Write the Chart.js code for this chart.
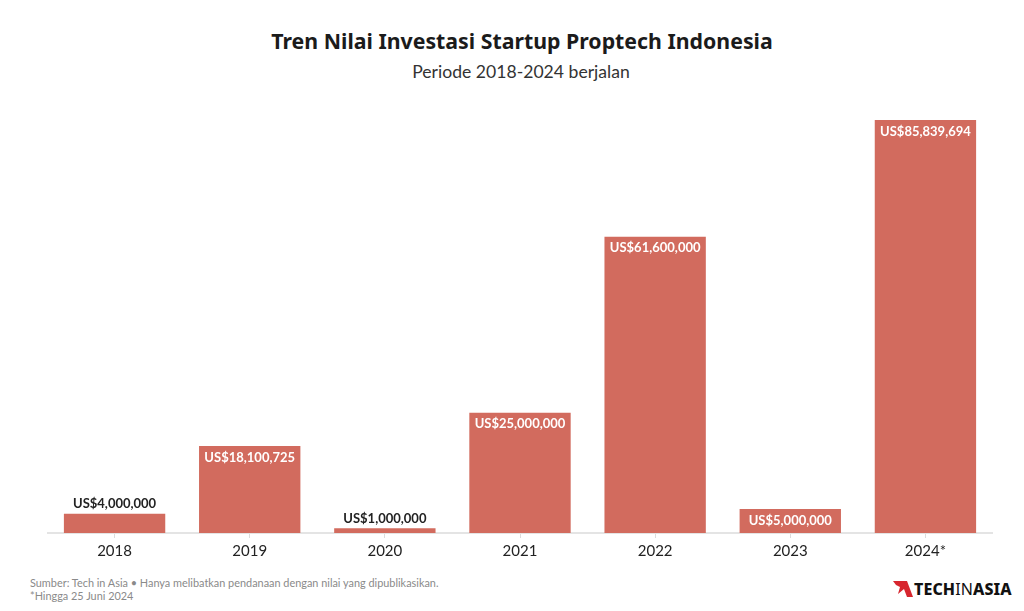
<!DOCTYPE html>
<html>
<head>
<meta charset="utf-8">
<script src="https://cdn.jsdelivr.net/npm/chart.js@4.4.0/dist/chart.umd.min.js"></script>
<style>
    body { margin: 0; background: #fff; }
    #wrap { position: relative; width: 1024px; height: 611px; overflow: hidden; font-family: Lato, "Noto Sans", sans-serif; }
    #title { position: absolute; top: 26px; left: 10px; width: 1024px; text-align: center; font-family: "Noto Sans", Inter, sans-serif; font-weight: 700; font-size: 21.3px; color: #1b1b1b; }
    #subtitle { position: absolute; top: 61px; left: 9px; width: 1024px; text-align: center; font-size: 17.6px; color: #333; }
    #chartBox { position: absolute; left: 47px; top: 100px; width: 946px; height: 463px; }
    #footer { position: absolute; left: 30px; top: 577px; font-size: 10.9px; line-height: 12.5px; color: #8a8a8a; }
    #logo { position: absolute; left: 893px; top: 578px; height: 22px; display: flex; align-items: center; }
    #logo span { font-family: "Noto Sans", sans-serif; font-size: 16px; font-weight: 800; color: #111; letter-spacing: 0.1px; }
    #logo span b { font-weight: 400; }
</style>
</head>
<body>
<div id="wrap">
    <div id="title">Tren Nilai Investasi Startup Proptech Indonesia</div>
    <div id="subtitle">Periode 2018-2024 berjalan</div>
    <div id="chartBox"><canvas id="investChart"></canvas></div>
    <div id="footer">
        Sumber: Tech in Asia &bull; Hanya melibatkan pendanaan dengan nilai yang dipublikasikan.<br>
        *Hingga 25 Juni 2024
    </div>
    <div id="logo">
        <svg width="20" height="18" viewBox="0 0 20 18">
            <polygon points="0,1 14,1 20,17 14,17 11,9 5,14 7,7 3,5" fill="#d7262e"/>
        </svg>
        <span style="margin-left:1px">TECH<b>IN</b>ASIA</span>
    </div>
</div>

<script>
// Data
const years = ['2018', '2019', '2020', '2021', '2022', '2023', '2024*'];
const investValues = [4000000, 18100725, 1000000, 25000000, 61600000, 5000000, 85839694];

const barColor = '#d26b5e';

function formatUSD(v) {
    return 'US$' + v.toLocaleString('en-US');
}

/**
 * Draw value labels: inside the bar (white) when tall enough, otherwise above it
 */
const valueLabels = {
    id: 'valueLabels',
    afterDatasetsDraw(chart) {
        const ctx = chart.ctx;
        const meta = chart.getDatasetMeta(0);
        ctx.save();
        ctx.font = 'bold 13px Lato, "Noto Sans", sans-serif';
        ctx.textAlign = 'center';
        meta.data.forEach((bar, i) => {
            const h = bar.base - bar.y;
            const text = formatUSD(investValues[i]);
            if (h >= 22) {
                ctx.fillStyle = '#ffffff';
                ctx.textBaseline = 'top';
                ctx.fillText(text, bar.x, bar.y + 5);
            } else {
                ctx.fillStyle = '#222222';
                ctx.textBaseline = 'bottom';
                ctx.fillText(text, bar.x, bar.y - 3);
            }
        });
        ctx.restore();
    }
};

new Chart(document.getElementById('investChart'), {
    type: 'bar',
    data: {
        labels: years,
        datasets: [{
            data: investValues,
            backgroundColor: barColor,
            borderWidth: 0,
            barPercentage: 0.75,
            categoryPercentage: 1
        }]
    },
    options: {
        responsive: true,
        maintainAspectRatio: false,
        animation: false,
        layout: { padding: 0 },
        plugins: {
            legend: { display: false },
            tooltip: { enabled: false }
        },
        scales: {
            x: {
                grid: {
                    display: true,
                    offset: false,
                    drawOnChartArea: false,
                    drawTicks: true,
                    tickLength: 5,
                    color: '#dcdcdc'
                },
                border: { display: true, color: '#e4e4e4', width: 2 },
                ticks: {
                    color: '#222',
                    padding: 4,
                    font: { family: 'Lato, "Noto Sans", sans-serif', size: 15 }
                },
                afterFit(scale) { scale.height = 30; }
            },
            y: {
                display: false,
                min: 0,
                max: 90000000
            }
        }
    },
    plugins: [valueLabels]
});
</script>
</body>
</html>
